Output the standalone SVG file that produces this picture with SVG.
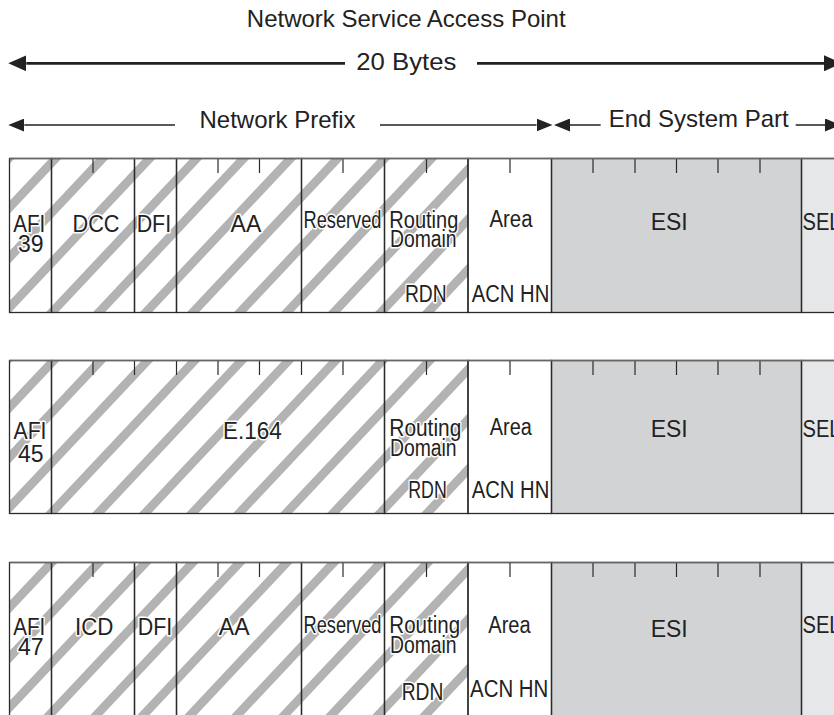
<svg xmlns="http://www.w3.org/2000/svg" width="834" height="715" viewBox="0 0 834 715">
<style>
.t{font-family:"Liberation Sans",Arial,Helvetica,sans-serif;font-size:23px;fill:#222;text-anchor:middle}
.hd{font-size:24px}
.hl{stroke:#fff;stroke-width:3;paint-order:stroke;stroke-linejoin:round}
.cell{fill:none;stroke:#2a2a2a;stroke-width:1.3}
.tick{stroke:#2a2a2a;stroke-width:1.2}
.top{stroke:#666;stroke-width:1.6}
.esi{fill:#d2d3d5}
.sel{fill:#e6e7e8}
.hatch{fill:#b3b3b3}
.ar1{stroke:#222;stroke-width:2.7;fill:none}
.ar2{stroke:#222;stroke-width:1.5;fill:none}
</style>
<defs>
<path id="bands" d="M10.5,150h12l-535.8,570h-12z M57.5,150h12l-535.8,570h-12z M104.5,150h12l-535.8,570h-12z M151.5,150h12l-535.8,570h-12z M198.5,150h12l-535.8,570h-12z M245.5,150h12l-535.8,570h-12z M292.5,150h12l-535.8,570h-12z M339.5,150h12l-535.8,570h-12z M386.5,150h12l-535.8,570h-12z M433.5,150h12l-535.8,570h-12z M480.5,150h12l-535.8,570h-12z M527.5,150h12l-535.8,570h-12z M574.5,150h12l-535.8,570h-12z M621.5,150h12l-535.8,570h-12z M668.5,150h12l-535.8,570h-12z M715.5,150h12l-535.8,570h-12z M762.5,150h12l-535.8,570h-12z M809.5,150h12l-535.8,570h-12z M856.5,150h12l-535.8,570h-12z M903.5,150h12l-535.8,570h-12z M950.5,150h12l-535.8,570h-12z M997.5,150h12l-535.8,570h-12z"/>
<clipPath id="c1"><rect x="9.5" y="158.5" width="458.5" height="154"/></clipPath>
<clipPath id="c2"><rect x="9.5" y="360.5" width="458.5" height="153"/></clipPath>
<clipPath id="c3"><rect x="9.5" y="562.5" width="458.5" height="160"/></clipPath>
<marker id="aL" markerUnits="userSpaceOnUse" markerWidth="18" markerHeight="16" viewBox="0 0 18 16" refX="0" refY="8" orient="auto-start-reverse">
<path d="M0,0 L18,8 L0,16 Z" fill="#222"/>
</marker>
<marker id="aS" markerUnits="userSpaceOnUse" markerWidth="16" markerHeight="13" viewBox="0 0 16 13" refX="0" refY="6.5" orient="auto-start-reverse">
<path d="M0,0 L16,6.5 L0,13 Z" fill="#222"/>
</marker>
</defs>
<rect x="0" y="0" width="834" height="715" fill="#fff"/>

<g id="connectors">
<line class="ar1" x1="26.3" y1="63.3" x2="345" y2="63.3" marker-start="url(#aL)"/>
<line class="ar1" x1="477" y1="63.3" x2="824" y2="63.3" marker-end="url(#aL)"/>
<line class="ar2" x1="24.3" y1="125" x2="175" y2="125" marker-start="url(#aS)"/>
<line class="ar2" x1="380" y1="125" x2="536.5" y2="125" marker-end="url(#aS)"/>
<line class="ar2" x1="570" y1="125" x2="600.7" y2="125" marker-start="url(#aS)"/>
<line class="ar2" x1="795.7" y1="125" x2="825" y2="125" marker-end="url(#aS)"/>
</g>

<g id="labels">
<text class="t hd" x="406.2" y="26.7">Network Service Access Point</text>
<text class="t hd" x="406.3" y="70" textLength="100" lengthAdjust="spacingAndGlyphs">20 Bytes</text>
<text class="t hd" x="277.5" y="128.3">Network Prefix</text>
<text class="t hd" x="698.7" y="126.7">End System Part</text>
</g>

<!-- Row 1: DCC format -->
<g id="row-dcc">
<use href="#bands" class="hatch" clip-path="url(#c1)"/>
<rect class="esi" x="551.5" y="158.5" width="250" height="154"/>
<rect class="sel" x="801.5" y="158.5" width="42" height="154"/>
<g id="dcc-afi"><rect class="cell" x="9.5" y="158.5" width="42" height="154"/>
<text class="t hl" x="29.3" y="232" textLength="32" lengthAdjust="spacingAndGlyphs">AFI</text>
<text class="t hl" x="30.8" y="252">39</text></g>
<g id="dcc-dcc"><rect class="cell" x="51.5" y="158.5" width="83" height="154"/>
<line class="tick" x1="93" y1="158.5" x2="93" y2="173"/>
<text class="t hl" x="96" y="232" textLength="47" lengthAdjust="spacingAndGlyphs">DCC</text></g>
<g id="dcc-dfi"><rect class="cell" x="134.5" y="158.5" width="42" height="154"/>
<text class="t hl" x="153.9" y="232" textLength="34.5" lengthAdjust="spacingAndGlyphs">DFI</text></g>
<g id="dcc-aa"><rect class="cell" x="176.5" y="158.5" width="125" height="154"/>
<line class="tick" x1="218" y1="158.5" x2="218" y2="173"/>
<line class="tick" x1="259.5" y1="158.5" x2="259.5" y2="173"/>
<text class="t hl" x="245.9" y="232">AA</text></g>
<g id="dcc-reserved"><rect class="cell" x="301.5" y="158.5" width="83" height="154"/>
<line class="tick" x1="343" y1="158.5" x2="343" y2="173"/>
<text class="t hl" x="342.5" y="228" textLength="78" lengthAdjust="spacingAndGlyphs">Reserved</text></g>
<g id="dcc-rd"><rect class="cell" x="384.5" y="158.5" width="83.5" height="154"/>
<line class="tick" x1="426.5" y1="158.5" x2="426.5" y2="173"/>
<text class="t hl" x="423.8" y="228" textLength="69" lengthAdjust="spacingAndGlyphs">Routing</text>
<text class="t hl" x="423.3" y="247" textLength="66.7" lengthAdjust="spacingAndGlyphs">Domain</text>
<text class="t hl" x="425.8" y="302" textLength="41.7" lengthAdjust="spacingAndGlyphs">RDN</text></g>
<g id="dcc-area"><rect class="cell" x="468" y="158.5" width="83.5" height="154"/>
<line class="tick" x1="510" y1="158.5" x2="510" y2="173"/>
<text class="t" x="511" y="227" textLength="43" lengthAdjust="spacingAndGlyphs">Area</text>
<text class="t" x="510.5" y="302" textLength="77.5" lengthAdjust="spacingAndGlyphs">ACN HN</text></g>
<g id="dcc-esi"><rect class="cell" x="551.5" y="158.5" width="250" height="154"/>
<line class="tick" x1="593" y1="158.5" x2="593" y2="173"/>
<line class="tick" x1="635" y1="158.5" x2="635" y2="173"/>
<line class="tick" x1="676.5" y1="158.5" x2="676.5" y2="173"/>
<line class="tick" x1="718" y1="158.5" x2="718" y2="173"/>
<line class="tick" x1="760" y1="158.5" x2="760" y2="173"/>
<text class="t" x="669.2" y="229.5">ESI</text></g>
<g id="dcc-sel"><rect class="cell" x="801.5" y="158.5" width="42" height="154"/>
<text class="t" x="802.5" y="229.5" style="text-anchor:start" textLength="38" lengthAdjust="spacingAndGlyphs">SEL</text></g>
<line class="top" x1="9.5" y1="158.5" x2="834" y2="158.5"/>
</g>

<!-- Row 2: E.164 format -->
<g id="row-e164">
<use href="#bands" class="hatch" clip-path="url(#c2)"/>
<rect class="esi" x="551.5" y="360.5" width="250" height="153"/>
<rect class="sel" x="801.5" y="360.5" width="42" height="153"/>
<g id="e164-afi"><rect class="cell" x="9.5" y="360.5" width="42" height="153"/>
<text class="t hl" x="30" y="439" textLength="33" lengthAdjust="spacingAndGlyphs">AFI</text>
<text class="t hl" x="30.8" y="461.7">45</text></g>
<g id="e164-e164"><rect class="cell" x="51.5" y="360.5" width="333" height="153"/>
<line class="tick" x1="93" y1="360.5" x2="93" y2="375"/>
<line class="tick" x1="134.5" y1="360.5" x2="134.5" y2="375"/>
<line class="tick" x1="176.5" y1="360.5" x2="176.5" y2="375"/>
<line class="tick" x1="218" y1="360.5" x2="218" y2="375"/>
<line class="tick" x1="259.5" y1="360.5" x2="259.5" y2="375"/>
<line class="tick" x1="301.5" y1="360.5" x2="301.5" y2="375"/>
<line class="tick" x1="343" y1="360.5" x2="343" y2="375"/>
<text class="t hl" x="252.3" y="439" textLength="58.7" lengthAdjust="spacingAndGlyphs">E.164</text></g>
<g id="e164-rd"><rect class="cell" x="384.5" y="360.5" width="83.5" height="153"/>
<line class="tick" x1="426.5" y1="360.5" x2="426.5" y2="375"/>
<text class="t hl" x="425.3" y="436" textLength="72" lengthAdjust="spacingAndGlyphs">Routing</text>
<text class="t hl" x="423.3" y="456" textLength="66.7" lengthAdjust="spacingAndGlyphs">Domain</text>
<text class="t hl" x="427.5" y="498.3" textLength="38.5" lengthAdjust="spacingAndGlyphs">RDN</text></g>
<g id="e164-area"><rect class="cell" x="468" y="360.5" width="83.5" height="153"/>
<line class="tick" x1="510" y1="360.5" x2="510" y2="375"/>
<text class="t" x="510.8" y="435" textLength="42" lengthAdjust="spacingAndGlyphs">Area</text>
<text class="t" x="510.5" y="498.3" textLength="77.5" lengthAdjust="spacingAndGlyphs">ACN HN</text></g>
<g id="e164-esi"><rect class="cell" x="551.5" y="360.5" width="250" height="153"/>
<line class="tick" x1="593" y1="360.5" x2="593" y2="375"/>
<line class="tick" x1="635" y1="360.5" x2="635" y2="375"/>
<line class="tick" x1="676.5" y1="360.5" x2="676.5" y2="375"/>
<line class="tick" x1="718" y1="360.5" x2="718" y2="375"/>
<line class="tick" x1="760" y1="360.5" x2="760" y2="375"/>
<text class="t" x="669.2" y="437">ESI</text></g>
<g id="e164-sel"><rect class="cell" x="801.5" y="360.5" width="42" height="153"/>
<text class="t" x="802.5" y="437" style="text-anchor:start" textLength="38" lengthAdjust="spacingAndGlyphs">SEL</text></g>
<line class="top" x1="9.5" y1="360.5" x2="834" y2="360.5"/>
</g>

<!-- Row 3: ICD format -->
<g id="row-icd">
<use href="#bands" class="hatch" clip-path="url(#c3)"/>
<rect class="esi" x="551.5" y="562.5" width="250" height="160"/>
<rect class="sel" x="801.5" y="562.5" width="42" height="160"/>
<g id="icd-afi"><rect class="cell" x="9.5" y="562.5" width="42" height="160"/>
<text class="t hl" x="29.3" y="635" textLength="32" lengthAdjust="spacingAndGlyphs">AFI</text>
<text class="t hl" x="30.8" y="655">47</text></g>
<g id="icd-icd"><rect class="cell" x="51.5" y="562.5" width="83" height="160"/>
<line class="tick" x1="93" y1="562.5" x2="93" y2="577"/>
<text class="t hl" x="94.2" y="635" textLength="38.5" lengthAdjust="spacingAndGlyphs">ICD</text></g>
<g id="icd-dfi"><rect class="cell" x="134.5" y="562.5" width="42" height="160"/>
<text class="t hl" x="155" y="635" textLength="34.5" lengthAdjust="spacingAndGlyphs">DFI</text></g>
<g id="icd-aa"><rect class="cell" x="176.5" y="562.5" width="125" height="160"/>
<line class="tick" x1="218" y1="562.5" x2="218" y2="577"/>
<line class="tick" x1="259.5" y1="562.5" x2="259.5" y2="577"/>
<text class="t hl" x="234.2" y="635">AA</text></g>
<g id="icd-reserved"><rect class="cell" x="301.5" y="562.5" width="83" height="160"/>
<line class="tick" x1="343" y1="562.5" x2="343" y2="577"/>
<text class="t hl" x="342.5" y="633.3" textLength="78" lengthAdjust="spacingAndGlyphs">Reserved</text></g>
<g id="icd-rd"><rect class="cell" x="384.5" y="562.5" width="83.5" height="160"/>
<line class="tick" x1="426.5" y1="562.5" x2="426.5" y2="577"/>
<text class="t hl" x="424.7" y="633" textLength="70.7" lengthAdjust="spacingAndGlyphs">Routing</text>
<text class="t hl" x="423.3" y="653.3" textLength="66.7" lengthAdjust="spacingAndGlyphs">Domain</text>
<text class="t hl" x="422.5" y="700" textLength="41.6" lengthAdjust="spacingAndGlyphs">RDN</text></g>
<g id="icd-area"><rect class="cell" x="468" y="562.5" width="83.5" height="160"/>
<line class="tick" x1="510" y1="562.5" x2="510" y2="577"/>
<text class="t" x="509.5" y="632.7" textLength="42.4" lengthAdjust="spacingAndGlyphs">Area</text>
<text class="t" x="509.2" y="696.7" textLength="78.3" lengthAdjust="spacingAndGlyphs">ACN HN</text></g>
<g id="icd-esi"><rect class="cell" x="551.5" y="562.5" width="250" height="160"/>
<line class="tick" x1="593" y1="562.5" x2="593" y2="577"/>
<line class="tick" x1="635" y1="562.5" x2="635" y2="577"/>
<line class="tick" x1="676.5" y1="562.5" x2="676.5" y2="577"/>
<line class="tick" x1="718" y1="562.5" x2="718" y2="577"/>
<line class="tick" x1="760" y1="562.5" x2="760" y2="577"/>
<text class="t" x="669.2" y="637.3">ESI</text></g>
<g id="icd-sel"><rect class="cell" x="801.5" y="562.5" width="42" height="160"/>
<text class="t" x="802.5" y="633.3" style="text-anchor:start" textLength="38" lengthAdjust="spacingAndGlyphs">SEL</text></g>
<line class="top" x1="9.5" y1="562.5" x2="834" y2="562.5"/>
</g>
</svg>
